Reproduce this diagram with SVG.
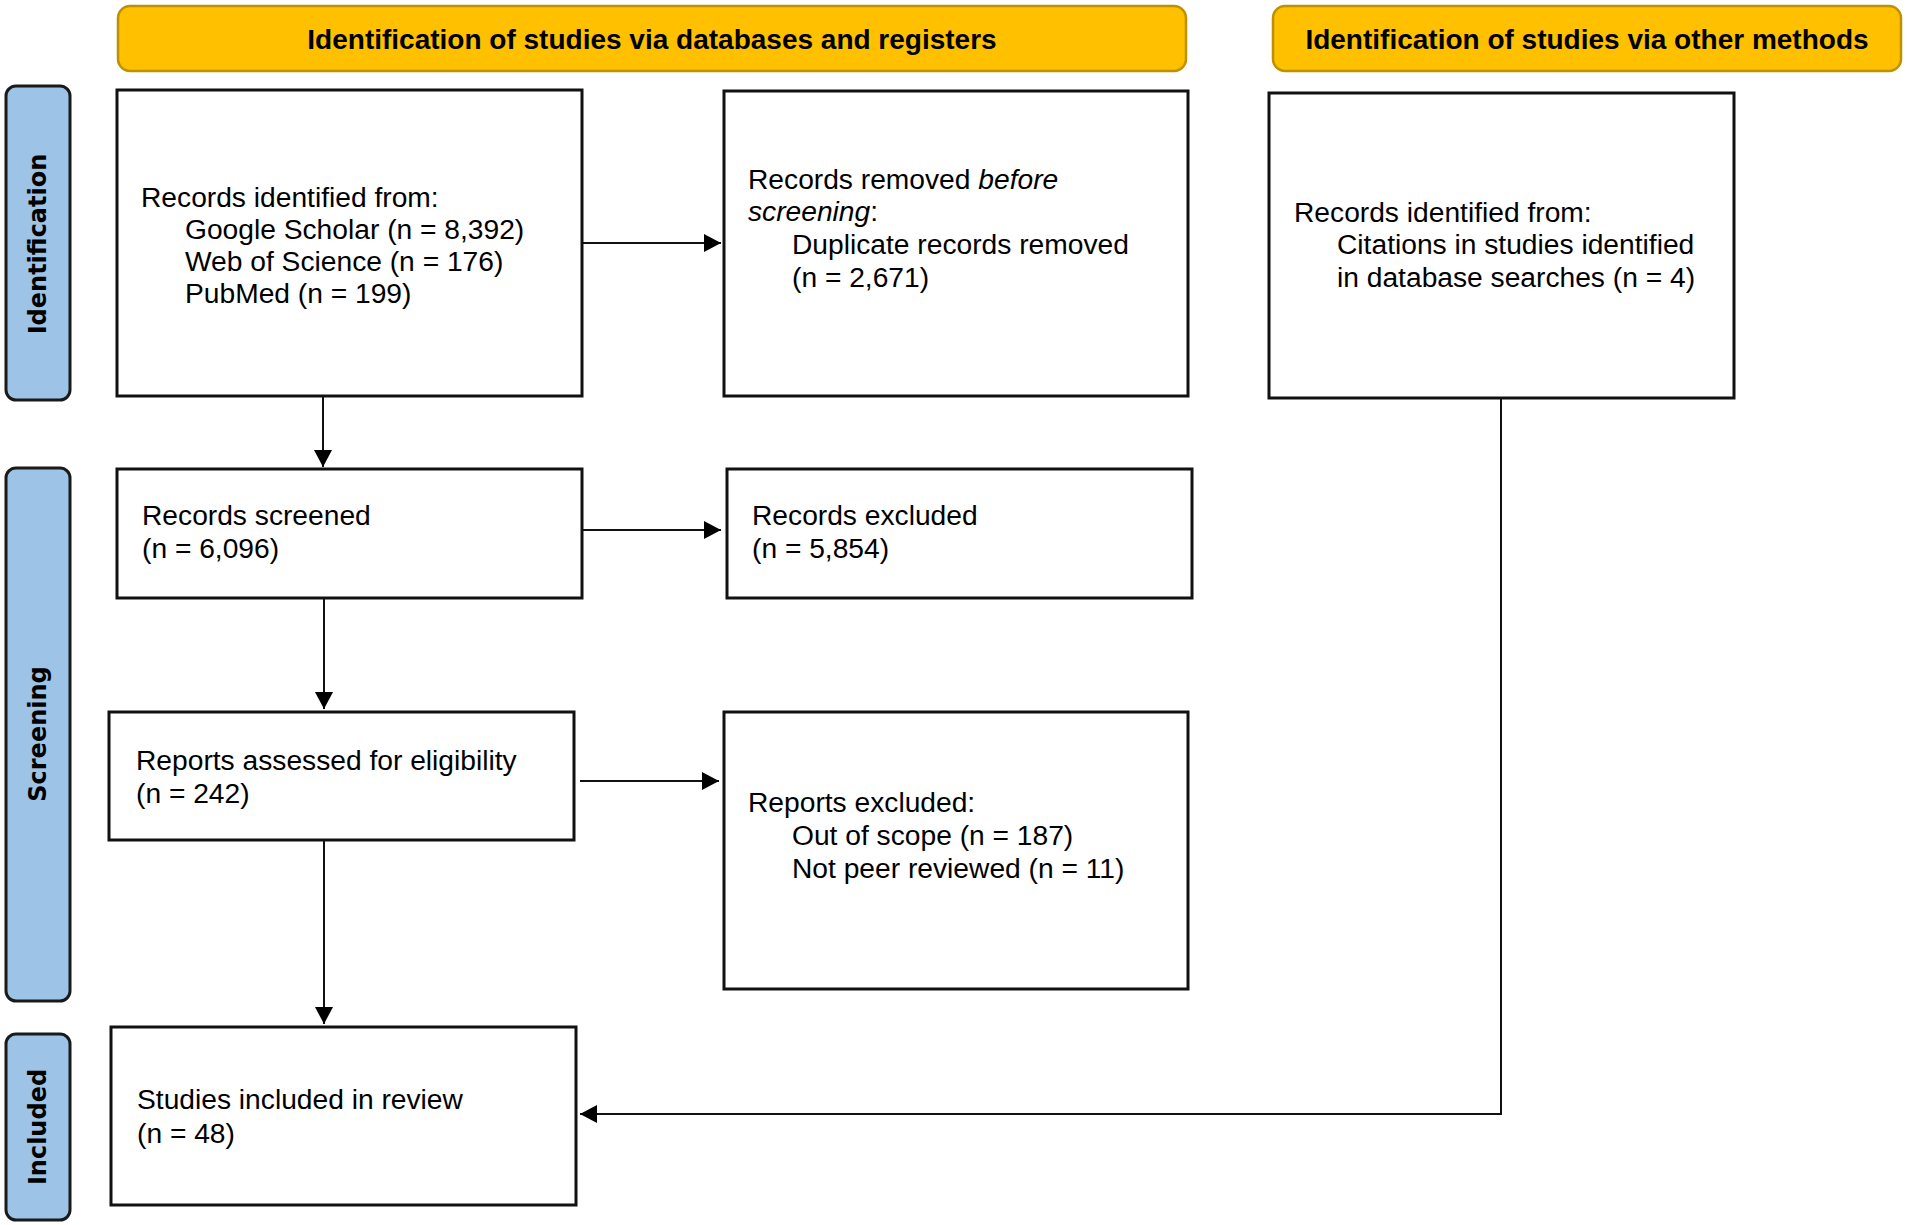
<svg xmlns="http://www.w3.org/2000/svg" width="1907" height="1225" viewBox="0 0 1907 1225">
<style>
.hdr{fill:#FFC000;stroke:#BF9000;stroke-width:2.5}
.hdrt{font-family:"Liberation Sans",Arial,sans-serif;font-weight:bold;font-size:28px;fill:#000;text-anchor:middle}
.side{fill:#9DC3E6;stroke:#1a1a1a;stroke-width:3}
.sidet{font-family:"DejaVu Sans",Verdana,sans-serif;font-weight:bold;font-size:24px;fill:#000;text-anchor:middle;dominant-baseline:central}
.box{fill:#fff;stroke:#111;stroke-width:3}
.t{font-family:"Liberation Sans",Arial,sans-serif;font-size:28.2px;fill:#000}
.c{fill:none;stroke:#111;stroke-width:2}
</style>
<defs>
<marker id="ah" viewBox="0 0 17 18" refX="17" refY="9" markerWidth="17" markerHeight="18" markerUnits="userSpaceOnUse" orient="auto">
<path d="M0,0 L17,9 L0,18 z" fill="#000"/>
</marker>
</defs>
<rect width="1907" height="1225" fill="#fff"/>

<g id="header-databases">
<rect class="hdr" x="118" y="6" width="1068" height="65" rx="12"/>
<text class="hdrt" x="652" y="49">Identification of studies via databases and registers</text>
</g>
<g id="header-other">
<rect class="hdr" x="1273" y="6" width="628" height="65" rx="12"/>
<text class="hdrt" x="1587" y="49">Identification of studies via other methods</text>
</g>

<g id="side-identification">
<rect class="side" x="6" y="86" width="64" height="314" rx="10"/>
<text class="sidet" transform="translate(38,244) rotate(-90)">Identification</text>
</g>
<g id="side-screening">
<rect class="side" x="6" y="468" width="64" height="533" rx="10"/>
<text class="sidet" transform="translate(38,734) rotate(-90)">Screening</text>
</g>
<g id="side-included">
<rect class="side" x="6" y="1034" width="64" height="186" rx="10"/>
<text class="sidet" transform="translate(38,1127) rotate(-90)">Included</text>
</g>

<g id="box-identified">
<rect class="box" x="117" y="90" width="465" height="306"/>
<text class="t"><tspan x="141" y="207">Records identified from:</tspan><tspan x="185" y="239">Google Scholar (n = 8,392)</tspan><tspan x="185" y="271">Web of Science (n = 176)</tspan><tspan x="185" y="303">PubMed (n = 199)</tspan></text>
</g>
<g id="box-removed">
<rect class="box" x="724" y="91" width="464" height="305"/>
<text class="t"><tspan x="748" y="189">Records removed <tspan font-style="italic">before</tspan></tspan><tspan x="748" y="221"><tspan font-style="italic">screening</tspan>:</tspan><tspan x="792" y="254">Duplicate records removed</tspan><tspan x="792" y="287">(n = 2,671)</tspan></text>
</g>
<g id="box-other">
<rect class="box" x="1269" y="93" width="465" height="305"/>
<text class="t"><tspan x="1294" y="222">Records identified from:</tspan><tspan x="1337" y="254">Citations in studies identified</tspan><tspan x="1337" y="287">in database searches (n = 4)</tspan></text>
</g>
<g id="box-screened">
<rect class="box" x="117" y="469" width="465" height="129"/>
<text class="t"><tspan x="142" y="525">Records screened</tspan><tspan x="142" y="558">(n = 6,096)</tspan></text>
</g>
<g id="box-excluded">
<rect class="box" x="727" y="469" width="465" height="129"/>
<text class="t"><tspan x="752" y="525">Records excluded</tspan><tspan x="752" y="558">(n = 5,854)</tspan></text>
</g>
<g id="box-assessed">
<rect class="box" x="109" y="712" width="465" height="128"/>
<text class="t"><tspan x="136" y="770">Reports assessed for eligibility</tspan><tspan x="136" y="803">(n = 242)</tspan></text>
</g>
<g id="box-reports-excluded">
<rect class="box" x="724" y="712" width="464" height="277"/>
<text class="t"><tspan x="748" y="812">Reports excluded:</tspan><tspan x="792" y="845">Out of scope (n = 187)</tspan><tspan x="792" y="878">Not peer reviewed (n = 11)</tspan></text>
</g>
<g id="box-included">
<rect class="box" x="111" y="1027" width="465" height="178"/>
<text class="t"><tspan x="137" y="1109">Studies included in review</tspan><tspan x="137" y="1143">(n = 48)</tspan></text>
</g>

<g id="connectors">
<line class="c" x1="582" y1="243" x2="721" y2="243" marker-end="url(#ah)"/>
<line class="c" x1="323" y1="396" x2="323" y2="467" marker-end="url(#ah)"/>
<line class="c" x1="582" y1="530" x2="721" y2="530" marker-end="url(#ah)"/>
<line class="c" x1="324" y1="598" x2="324" y2="709" marker-end="url(#ah)"/>
<line class="c" x1="580" y1="781" x2="719" y2="781" marker-end="url(#ah)"/>
<line class="c" x1="324" y1="840" x2="324" y2="1024" marker-end="url(#ah)"/>
<polyline class="c" points="1501,398 1501,1114 580,1114" marker-end="url(#ah)"/>
</g>
</svg>
